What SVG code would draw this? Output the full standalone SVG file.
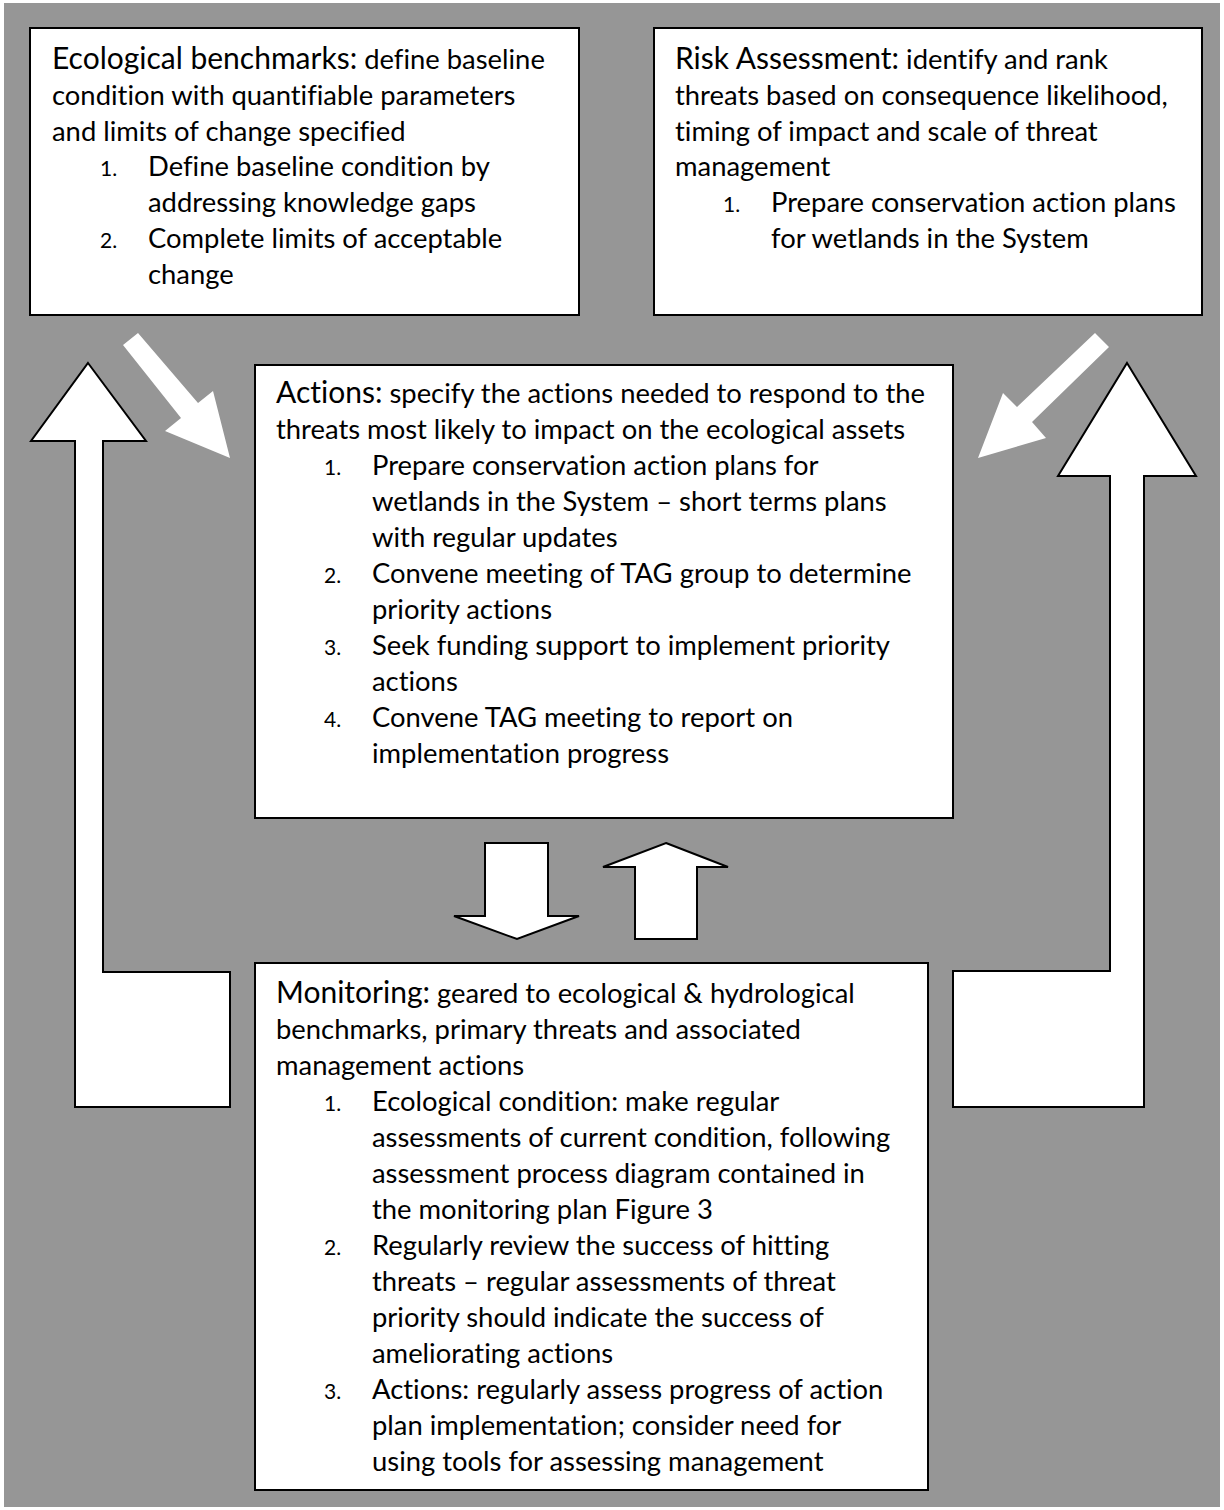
<svg xmlns="http://www.w3.org/2000/svg" width="1224" height="1510" viewBox="0 0 1224 1510">
<style>
.box{fill:#fff;stroke:#000;stroke-width:2}
.arr{fill:#fff;stroke:#000;stroke-width:2;stroke-linejoin:miter}
.diag{fill:#fff;stroke:none}
text{font-family:Lato,"Open Sans","Liberation Sans",sans-serif;fill:#000;font-size:27.4px;font-variant-ligatures:none;font-feature-settings:"liga" 0,"clig" 0,"dlig" 0}
.h{font-size:30px}
.n{font-size:21px}
</style>
<rect x="0" y="0" width="1224" height="1510" fill="#fff"/>
<rect x="4" y="3" width="1216" height="1504" fill="#969696"/>
<g id="connectors">
<polygon class="arr" points="88,363 146,441 103,441 103,972 230,972 230,1107 75,1107 75,441 31,441"/>
<polygon class="arr" points="1127,363 1196,476 1144,476 1144,1107 953,1107 953,971 1110,971 1110,476 1058,476"/>
<polygon class="diag" points="123,345 138,333 198,403 213,391 230,458 165,431 181,418"/>
<polygon class="diag" points="1095,333 1109,347 1032,422 1046,438 978,458 1003,393 1017,407"/>
<polygon class="arr" points="485,843 548,843 548,916 579,916 517,939 454,916 485,916"/>
<polygon class="arr" points="666,843 728,867 697,867 697,939 635,939 635,867 603,867"/>
</g>
<g id="benchmarks">
<rect class="box" x="30" y="28" width="549" height="287"/>
<text x="52" y="68.5"><tspan class="h">Ecological benchmarks:</tspan> define baseline</text>
<text x="52" y="104.5">condition with quantifiable parameters</text>
<text x="52" y="140.5">and limits of change specified</text>
<text class="n" x="100" y="176">1.</text>
<text x="148" y="176">Define baseline condition by</text>
<text x="148" y="212">addressing knowledge gaps</text>
<text class="n" x="100" y="248">2.</text>
<text x="148" y="248">Complete limits of acceptable</text>
<text x="148" y="283.5">change</text>
</g>
<g id="risk">
<rect class="box" x="654" y="28" width="548" height="287"/>
<text x="675" y="68.5"><tspan class="h">Risk Assessment:</tspan> identify and rank</text>
<text x="675" y="104.5">threats based on consequence likelihood,</text>
<text x="675" y="140.5">timing of impact and scale of threat</text>
<text x="675" y="176">management</text>
<text class="n" x="723" y="212">1.</text>
<text x="771" y="212">Prepare conservation action plans</text>
<text x="771" y="248">for wetlands in the System</text>
</g>
<g id="actions">
<rect class="box" x="255" y="365" width="698" height="453"/>
<text x="276" y="403"><tspan class="h">Actions:</tspan> specify the actions needed to respond to the</text>
<text x="276" y="439">threats most likely to impact on the ecological assets</text>
<text class="n" x="324" y="475">1.</text>
<text x="372" y="475">Prepare conservation action plans for</text>
<text x="372" y="511">wetlands in the System – short terms plans</text>
<text x="372" y="547">with regular updates</text>
<text class="n" x="324" y="583">2.</text>
<text x="372" y="583">Convene meeting of TAG group to determine</text>
<text x="372" y="619">priority actions</text>
<text class="n" x="324" y="655">3.</text>
<text x="372" y="655">Seek funding support to implement priority</text>
<text x="372" y="691">actions</text>
<text class="n" x="324" y="727">4.</text>
<text x="372" y="727">Convene TAG meeting to report on</text>
<text x="372" y="763">implementation progress</text>
</g>
<g id="monitoring">
<rect class="box" x="255" y="963" width="673" height="527"/>
<text x="276" y="1003"><tspan class="h">Monitoring:</tspan> geared to ecological &amp; hydrological</text>
<text x="276" y="1039">benchmarks, primary threats and associated</text>
<text x="276" y="1075">management actions</text>
<text class="n" x="324" y="1111">1.</text>
<text x="372" y="1111">Ecological condition: make regular</text>
<text x="372" y="1147">assessments of current condition, following</text>
<text x="372" y="1183">assessment process diagram contained in</text>
<text x="372" y="1219">the monitoring plan Figure 3</text>
<text class="n" x="324" y="1255">2.</text>
<text x="372" y="1255">Regularly review the success of hitting</text>
<text x="372" y="1291">threats – regular assessments of threat</text>
<text x="372" y="1327">priority should indicate the success of</text>
<text x="372" y="1363">ameliorating actions</text>
<text class="n" x="324" y="1399">3.</text>
<text x="372" y="1399">Actions: regularly assess progress of action</text>
<text x="372" y="1435">plan implementation; consider need for</text>
<text x="372" y="1471">using tools for assessing management</text>
</g>
</svg>
